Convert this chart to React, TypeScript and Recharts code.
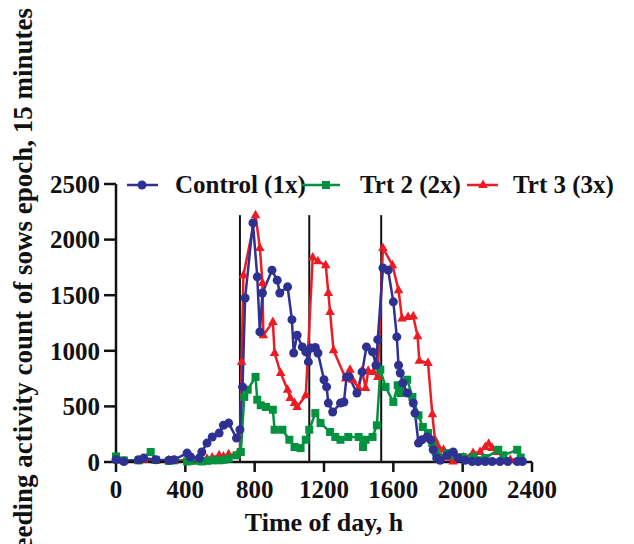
import { LineChart, Line, XAxis, YAxis, ReferenceLine } from "recharts";

// time of day (hhmm) and feeding counts
const controlTime = [0, 45, 130, 160, 230, 305, 335, 410, 430, 480, 495, 525, 555, 595, 620, 650, 695, 715, 730, 745, 790, 815, 830, 845, 900, 930, 945, 990, 1015, 1025, 1045, 1075, 1095, 1110, 1125, 1150, 1165, 1200, 1215, 1225, 1250, 1295, 1315, 1330, 1345, 1390, 1420, 1445, 1480, 1500, 1510, 1540, 1570, 1600, 1620, 1630, 1640, 1655, 1680, 1715, 1725, 1745, 1765, 1795, 1815, 1830, 1850, 1870, 1910, 1945, 1975, 2015, 2055, 2090, 2130, 2170, 2215, 2260, 2315, 2345];
const controlCount = [20, 5, 20, 35, 20, 15, 20, 80, 45, 35, 90, 170, 225, 260, 330, 350, 215, 290, 675, 1475, 2150, 1665, 1170, 1520, 1725, 1635, 1520, 1575, 1280, 980, 1140, 1035, 990, 900, 1025, 1030, 980, 740, 675, 530, 450, 530, 540, 765, 765, 620, 810, 1035, 990, 870, 1100, 1745, 1725, 1440, 1125, 870, 800, 710, 620, 530, 440, 170, 200, 225, 200, 110, 35, 15, 60, 90, 35, 15, 5, 5, 5, 5, 5, 5, 5, 5];

const trt2Time = [0, 45, 130, 200, 230, 305, 335, 410, 430, 480, 495, 525, 555, 595, 620, 650, 695, 720, 740, 760, 805, 815, 835, 865, 905, 915, 960, 1000, 1030, 1065, 1095, 1115, 1150, 1180, 1235, 1265, 1295, 1340, 1400, 1425, 1440, 1480, 1505, 1525, 1555, 1600, 1625, 1640, 1680, 1710, 1745, 1770, 1800, 1825, 1845, 1860, 1915, 1950, 2000, 2060, 2130, 2205, 2235, 2315, 2335];
const trt2Count = [50, 15, 15, 90, 20, 10, 15, 5, 10, 10, 5, 10, 15, 15, 20, 30, 60, 90, 585, 650, 765, 560, 510, 495, 470, 290, 290, 200, 135, 125, 200, 290, 440, 350, 270, 225, 200, 225, 225, 135, 200, 225, 330, 830, 675, 540, 690, 620, 740, 585, 420, 315, 260, 170, 90, 45, 80, 60, 45, 45, 35, 110, 60, 110, 40];

const trt3Time = [0, 45, 130, 160, 230, 305, 335, 410, 430, 480, 495, 525, 555, 595, 620, 650, 695, 715, 725, 735, 805, 830, 845, 850, 905, 915, 950, 990, 1005, 1030, 1045, 1095, 1135, 1165, 1210, 1225, 1235, 1255, 1325, 1350, 1365, 1400, 1420, 1440, 1455, 1485, 1510, 1540, 1595, 1630, 1650, 1685, 1715, 1740, 1750, 1800, 1825, 1840, 1860, 1890, 1910, 1945, 2005, 2060, 2100, 2130, 2150, 2170, 2200, 2235, 2275, 2330];
const trt3Count = [30, 10, 10, 20, 10, 15, 10, 20, 5, 10, 20, 30, 40, 60, 50, 70, 60, 80, 900, 1680, 2220, 1925, 1610, 1140, 1260, 980, 800, 650, 575, 530, 495, 600, 1840, 1805, 1770, 1520, 1350, 1005, 750, 830, 740, 665, 820, 665, 820, 810, 765, 1925, 1770, 1545, 1290, 1305, 1310, 1130, 910, 890, 430, 200, 135, 110, 40, 5, 40, 80, 90, 135, 165, 125, 90, 45, 20, 20];

// feeding times (vertical markers)
const feedTimes = [715, 1115, 1530];
const xTicks = [0, 400, 800, 1200, 1600, 2000, 2400];
const yTicks = [0, 500, 1000, 1500, 2000, 2500];

const BLUE = "#2E3192";
const GREEN = "#00923F";
const RED = "#ED1C24";
const FONT = "'Liberation Serif', 'Times New Roman', serif";

const zip = (t: number[], c: number[]) => t.map((x, i) => ({ x, y: c[i] }));
const controlData = zip(controlTime, controlCount);
const trt2Data = zip(trt2Time, trt2Count);
const trt3Data = zip(trt3Time, trt3Count);

const circleDot = (p: any) => (
  <circle key={`c-${p.index}`} cx={p.cx} cy={p.cy} r={4.5} fill={BLUE} />
);
const squareDot = (p: any) => (
  <rect key={`s-${p.index}`} x={p.cx - 4} y={p.cy - 4} width={8} height={8} fill={GREEN} />
);
const triDot = (p: any) => (
  <path
    key={`t-${p.index}`}
    d={`M${p.cx},${p.cy - 5.5}L${p.cx + 4.8},${p.cy + 3}L${p.cx - 4.8},${p.cy + 3}Z`}
    fill={RED}
  />
);

const tickStyle = { fontSize: 25, fontWeight: "bold", fill: "#111", fontFamily: FONT };

const YTitle = () => (
  <text
    x={32}
    y={8}
    transform="rotate(-90 32 8)"
    textAnchor="end"
    fontSize={27}
    fontWeight="bold"
    fontFamily={FONT}
    fill="#111">
    Feeding activity count of sows epoch, 15 minutes
  </text>
);

export default function App() {
  return (
    <div style={{ position: "relative", width: 634, height: 544 }}>
      <style>{`body{margin:0}`}</style>
      <LineChart
        width={634}
        height={544}
        margin={{ top: 184, right: 102, bottom: 0, left: 0 }}>
        <XAxis
          dataKey="x"
          type="number"
          domain={[0, 2400]}
          ticks={xTicks}
          allowDuplicatedCategory={false}
          height={82}
          tickSize={10}
          tickMargin={8}
          tick={tickStyle}
          axisLine={{ stroke: "#111", strokeWidth: 2.5 }}
          tickLine={{ stroke: "#111", strokeWidth: 2.5 }}
          label={{
            value: "Time of day, h",
            position: "insideBottom",
            offset: 13,
            fontSize: 26,
            fontWeight: "bold",
            fontFamily: FONT,
            fill: "#111",
          }}
        />
        <YAxis
          type="number"
          domain={[0, 2500]}
          ticks={yTicks}
          width={116}
          tickSize={12}
          tickMargin={4}
          tick={tickStyle}
          axisLine={{ stroke: "#111", strokeWidth: 2.5 }}
          tickLine={{ stroke: "#111", strokeWidth: 2.5 }}
          label={{ content: () => <YTitle /> }}
        />
        {feedTimes.map((t) => (
          <ReferenceLine
            key={t}
            segment={[
              { x: t, y: 0 },
              { x: t, y: 2220 },
            ]}
            stroke="#111"
            strokeWidth={2}
          />
        ))}
        <Line
          data={trt3Data}
          dataKey="y"
          stroke={RED}
          strokeWidth={2.5}
          dot={triDot}
          isAnimationActive={false}
        />
        <Line
          data={trt2Data}
          dataKey="y"
          stroke={GREEN}
          strokeWidth={2.5}
          dot={squareDot}
          isAnimationActive={false}
        />
        <Line
          data={controlData}
          dataKey="y"
          stroke={BLUE}
          strokeWidth={2.5}
          dot={circleDot}
          isAnimationActive={false}
        />
      </LineChart>

      {/* legend drawn on top, as in the figure */}
      <svg
        width={634}
        height={34}
        style={{ position: "absolute", left: 0, top: 169 }}
        fontFamily={FONT}
        fontWeight="bold"
        fontSize={25}>
        <line x1={127} x2={158} y1={16} y2={16} stroke={BLUE} strokeWidth={2.5} />
        <circle cx={142} cy={16} r={4.5} fill={BLUE} />
        <text x={175} y={24} fill="#111">Control (1x)</text>

        <line x1={302} x2={340} y1={16} y2={16} stroke={GREEN} strokeWidth={2.5} />
        <rect x={322} y={12} width={8} height={8} fill={GREEN} />
        <text x={360} y={24} fill="#111">Trt 2 (2x)</text>

        <line x1={467} x2={498} y1={16} y2={16} stroke={RED} strokeWidth={2.5} />
        <path d="M483,10.5L487.8,19L478.2,19Z" fill={RED} />
        <text x={513} y={24} fill="#111">Trt 3 (3x)</text>
      </svg>
    </div>
  );
}
